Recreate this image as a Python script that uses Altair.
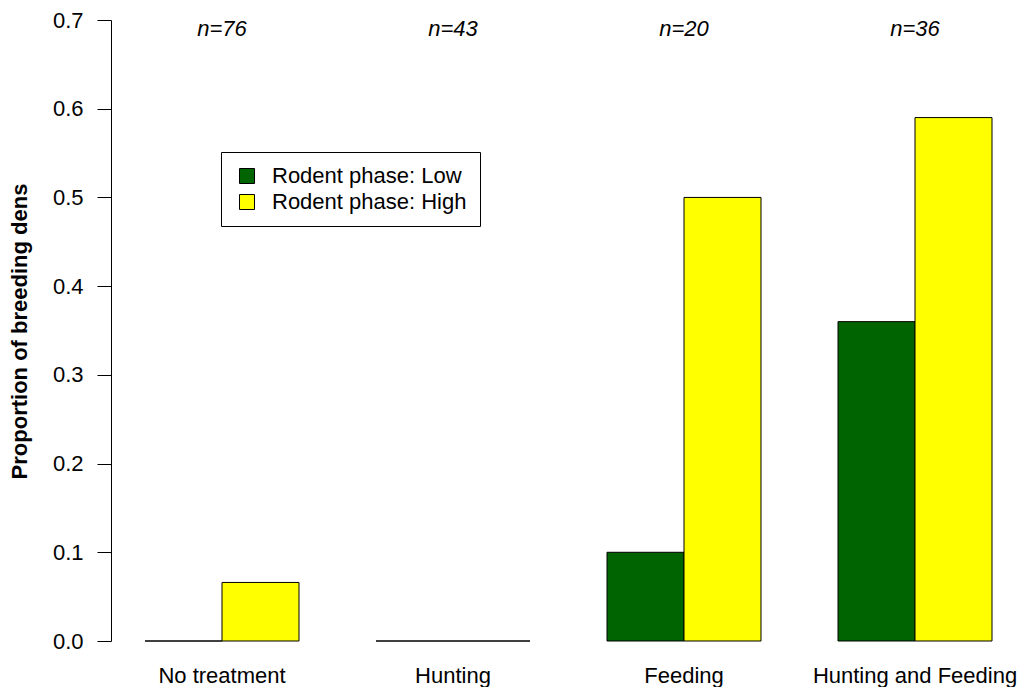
import altair as alt
import pandas as pd

# ---- data ----
categories = ["No treatment", "Hunting", "Feeding", "Hunting and Feeding"]
phases = ["Rodent phase: Low", "Rodent phase: High"]
low_values = [0.0, 0.0, 0.10, 0.36]
high_values = [0.066, 0.0, 0.50, 0.59]
sample_sizes = ["n=76", "n=43", "n=20", "n=36"]
y_ticks = [0.0, 0.1, 0.2, 0.3, 0.4, 0.5, 0.6, 0.7]
phase_colors = ["#006400", "#FFFF00"]

rows = []
for cat, lo, hi in zip(categories, low_values, high_values):
    rows.append({"treatment": cat, "phase": phases[0], "value": lo})
    rows.append({"treatment": cat, "phase": phases[1], "value": hi})
bars_df = pd.DataFrame(rows)
n_df = pd.DataFrame({"treatment": categories, "label": sample_sizes})

FONT = "Liberation Sans"

x_scale = alt.Scale(domain=categories, paddingInner=1 / 3, paddingOuter=0.12987, align=0.5667)
y_scale = alt.Scale(domain=[0, 0.7], nice=False, zero=True)

bars = alt.Chart(bars_df).mark_bar(stroke="black", strokeWidth=1).encode(
    x=alt.X(
        "treatment:N",
        scale=x_scale,
        sort=categories,
        title=None,
        axis=alt.Axis(
            labelAngle=0,
            ticks=False,
            domain=False,
            labelFontSize=22,
            labelColor="black",
            labelFont=FONT,
            labelBaseline="alphabetic",
            labelPadding=41,
            labelLimit=0,
        ),
    ),
    xOffset=alt.XOffset("phase:N", sort=phases, scale=alt.Scale(domain=phases, paddingInner=0, paddingOuter=0)),
    y=alt.Y(
        "value:Q",
        scale=y_scale,
        title="Proportion of breeding dens",
        axis=alt.Axis(
            values=y_ticks,
            format=".1f",
            grid=False,
            tickSize=14,
            tickColor="black",
            domainColor="black",
            labelPadding=14,
            labelFontSize=22,
            labelColor="black",
            labelFont=FONT,
            titleFont=FONT,
            titleFontSize=22,
            titleFontWeight="bold",
            titleColor="black",
            titleAngle=270,
            titleAlign="center",
            titleBaseline="alphabetic",
            titleX=-85,
            titleY=311,
        ),
    ),
    fill=alt.Fill(
        "phase:N",
        sort=phases,
        scale=alt.Scale(domain=phases, range=phase_colors),
        legend=alt.Legend(
            title=None,
            orient="none",
            legendX=110,
            legendY=132,
            padding=13,
            strokeColor="black",
            fillColor="white",
            symbolType="square",
            symbolSize=225,
            symbolStrokeColor="black",
            symbolStrokeWidth=1,
            symbolOffset=2,
            labelOffset=14,
            labelFontSize=22,
            labelFont=FONT,
            labelColor="black",
            rowPadding=4,
            labelLimit=400,
        ),
    ),
)

ntext = alt.Chart(n_df).mark_text(
    fontSize=22, fontStyle="italic", font=FONT, baseline="middle", color="black"
).encode(
    x=alt.X("treatment:N", scale=x_scale, sort=categories),
    y=alt.YDatum(0.69, type="quantitative"),
    text="label:N",
)

chart = (
    alt.layer(bars, ntext)
    .properties(
        width=907,
        height=621,
        padding={"left": 103, "top": 12, "right": 0, "bottom": 46},
        autosize=alt.AutoSizeParams(type="none"),
        background="white",
    )
    .configure_view(stroke=None)
)

chart.save("out.html", embed_options={"renderer": "svg", "actions": False})
